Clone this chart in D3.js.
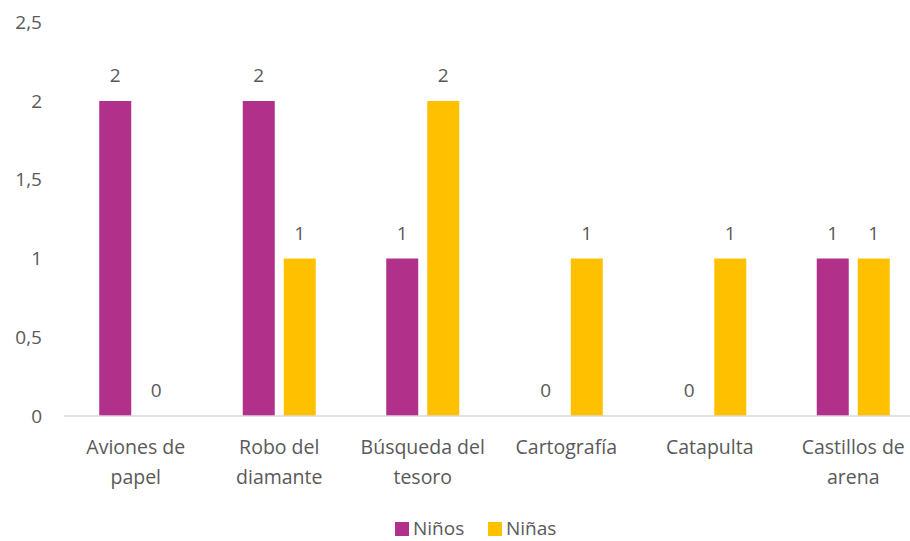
<!DOCTYPE html>
<html>
<head>
<meta charset="utf-8">
<script src="https://cdn.jsdelivr.net/npm/d3@7"></script>
<style>
  body { margin: 0; background: #fff; }
  text { font-family: "Open Sans", "Liberation Sans", sans-serif; fill: #595959; }
</style>
</head>
<body>
<script>
var w = 910;
var h = 541;

// data
var categories = [["Aviones de", "papel"], ["Robo del", "diamante"], ["Búsqueda del", "tesoro"],
                  ["Cartografía"], ["Catapulta"], ["Castillos de", "arena"]];
var series = ["Niños", "Niñas"];
var ninos = [2, 2, 1, 0, 0, 1];
var ninas = [0, 1, 2, 1, 1, 1];
var yTicks = [0, 0.5, 1, 1.5, 2, 2.5];
var colors = ["#B0308A", "#FFC000"];

var svg = d3.select("body").append("svg")
    .attr("width", w)
    .attr("height", h);

var x0 = d3.scaleBand()
    .domain(d3.range(categories.length))
    .range([64, 925]);

var x1 = d3.scaleBand()
    .domain(series)
    .range([0, 73])
    .paddingInner(0.22);

var y = d3.scaleLinear()
    .domain([0, 2.5])
    .range([416, 22.25]);

var fmt = function(d) { return String(d).replace(".", ","); };

// y tick labels
svg.selectAll(".ytick")
    .data(yTicks)
    .enter()
    .append("text")
    .attr("class", "ytick")
    .attr("x", 42)
    .attr("y", function(d) { return y(d); })
    .attr("dy", "0.35em")
    .attr("text-anchor", "end")
    .style("font-size", "19px")
    .text(fmt);

// bars
var off = x0.bandwidth() / 2 - 36.5;
var values = [ninos, ninas];
series.forEach(function(s, si) {
    svg.selectAll(".bar" + si)
        .data(values[si])
        .enter()
        .append("rect")
        .attr("x", function(d, i) { return x0(i) + off + x1(s); })
        .attr("y", function(d) { return y(d); })
        .attr("width", x1.bandwidth())
        .attr("height", function(d) { return y(0) - y(d); })
        .attr("fill", colors[si]);

    svg.selectAll(".lbl" + si)
        .data(values[si])
        .enter()
        .append("text")
        .attr("x", function(d, i) { return x0(i) + off + x1(s) + x1.bandwidth() / 2; })
        .attr("y", function(d) { return y(d) - 19; })
        .attr("text-anchor", "middle")
        .style("font-size", "19px")
        .text(function(d) { return d; });
});

// baseline
svg.append("line")
    .attr("x1", 64).attr("x2", 925)
    .attr("y1", y(0)).attr("y2", y(0))
    .attr("stroke", "#d9d9d9")
    .attr("stroke-width", 1.5);

// category labels
var cat = svg.selectAll(".cat")
    .data(categories)
    .enter()
    .append("text")
    .attr("class", "cat")
    .attr("text-anchor", "middle")
    .style("font-size", "19.5px")
    .attr("transform", function(d, i) { return "translate(" + (x0(i) + x0.bandwidth() / 2) + ",454)"; });

cat.selectAll("tspan")
    .data(function(d) { return d; })
    .enter()
    .append("tspan")
    .attr("x", 0)
    .attr("dy", function(d, i) { return i === 0 ? 0 : 30; })
    .text(function(d) { return d; });

// legend
var legX = [395, 488];
series.forEach(function(s, si) {
    svg.append("rect")
        .attr("x", legX[si]).attr("y", 522)
        .attr("width", 14).attr("height", 14)
        .attr("fill", colors[si]);
    svg.append("text")
        .attr("x", legX[si] + 18).attr("y", 535)
        .style("font-size", "19px")
        .text(s);
});
</script>
</body>
</html>
